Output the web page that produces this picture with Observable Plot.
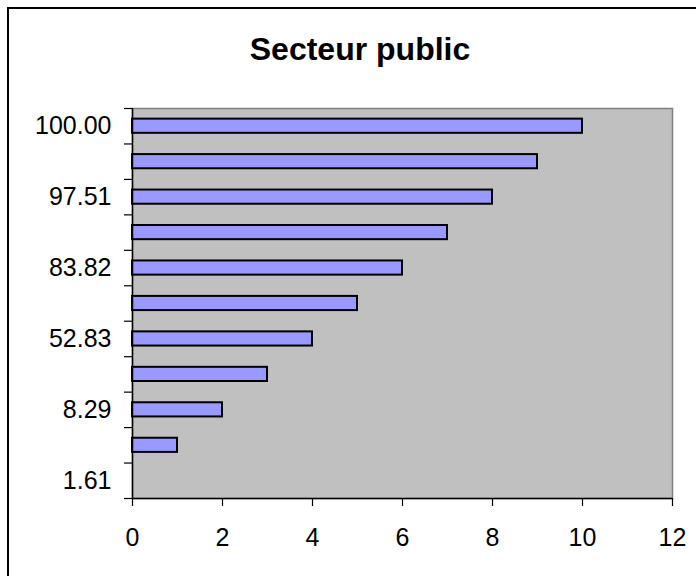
<!DOCTYPE html>
<html><head><meta charset="utf-8">
<script src="https://cdn.jsdelivr.net/npm/d3@7"></script>
<script src="https://cdn.jsdelivr.net/npm/@observablehq/plot@0.6"></script>
<style>
body{margin:0;background:#fff;overflow:hidden}
#wrap{position:relative;width:696px;height:576px;overflow:hidden;background:#fff}
#border{position:absolute;left:7px;top:7px;width:720px;height:620px;border:2px solid #000;box-sizing:border-box}
#title{position:absolute;left:7px;width:706px;top:31px;line-height:32px;text-align:center;font:bold 32px "Liberation Sans",Arial,sans-serif;color:#000}
#chart{position:absolute;left:0;top:0}
</style></head>
<body>
<div id="wrap"><div id="border"></div><div id="title">Secteur public</div><div id="chart"></div></div>
<script>
// categories (bottom to top); only every other label is displayed in the original
const categoryLabels = ["1.61", "", "8.29", "", "52.83", "", "83.82", "", "97.51", "", "100.00"];
const values = [0, 1, 2, 3, 4, 5, 6, 7, 8, 9, 10];
const xTicks = [0, 2, 4, 6, 8, 10, 12];

const data = values.map((v, i) => ({i, v}));
const n = values.length;
const shownIdx = categoryLabels.map((l, i) => l ? i : null).filter(i => i !== null);
const boundaries = d3.range(-0.5, n, 1);
const half = 0.2;

const chart = Plot.plot({
  width: 696, height: 576,
  marginLeft: 132, marginRight: 24, marginTop: 108, marginBottom: 78,
  style: {fontFamily: "'Liberation Sans', Arial, sans-serif", fontSize: "25px", color: "#000", background: "transparent"},
  x: {domain: [0, 12]},
  y: {domain: [-0.5, n - 0.5]},
  marks: [
    Plot.frame({fill: "#c0c0c0", stroke: "#808080", strokeWidth: 1.5}),
    Plot.rectX(data.filter(d => d.v > 0), {x1: 0, x2: "v", y1: d => d.i - half, y2: d => d.i + half, fill: "#9999ff", stroke: "#000", strokeWidth: 2}),
    Plot.ruleX([0], {stroke: "#000", strokeWidth: 1.5}),
    Plot.ruleY([-0.5], {stroke: "#000", strokeWidth: 1.5}),
    Plot.axisX(xTicks, {tickSize: 8, tickPadding: 22, fontSize: 25, stroke: "#000", strokeWidth: 1.2, label: null}),
    Plot.axisY(boundaries, {tickSize: 8, tickFormat: () => "", stroke: "#000", strokeWidth: 1.2, label: null}),
    Plot.axisY(shownIdx, {tickSize: 0, tickPadding: 21, tickFormat: i => categoryLabels[i], fontSize: 25, label: null})
  ]
});
document.getElementById("chart").appendChild(chart);
</script>
</body></html>
